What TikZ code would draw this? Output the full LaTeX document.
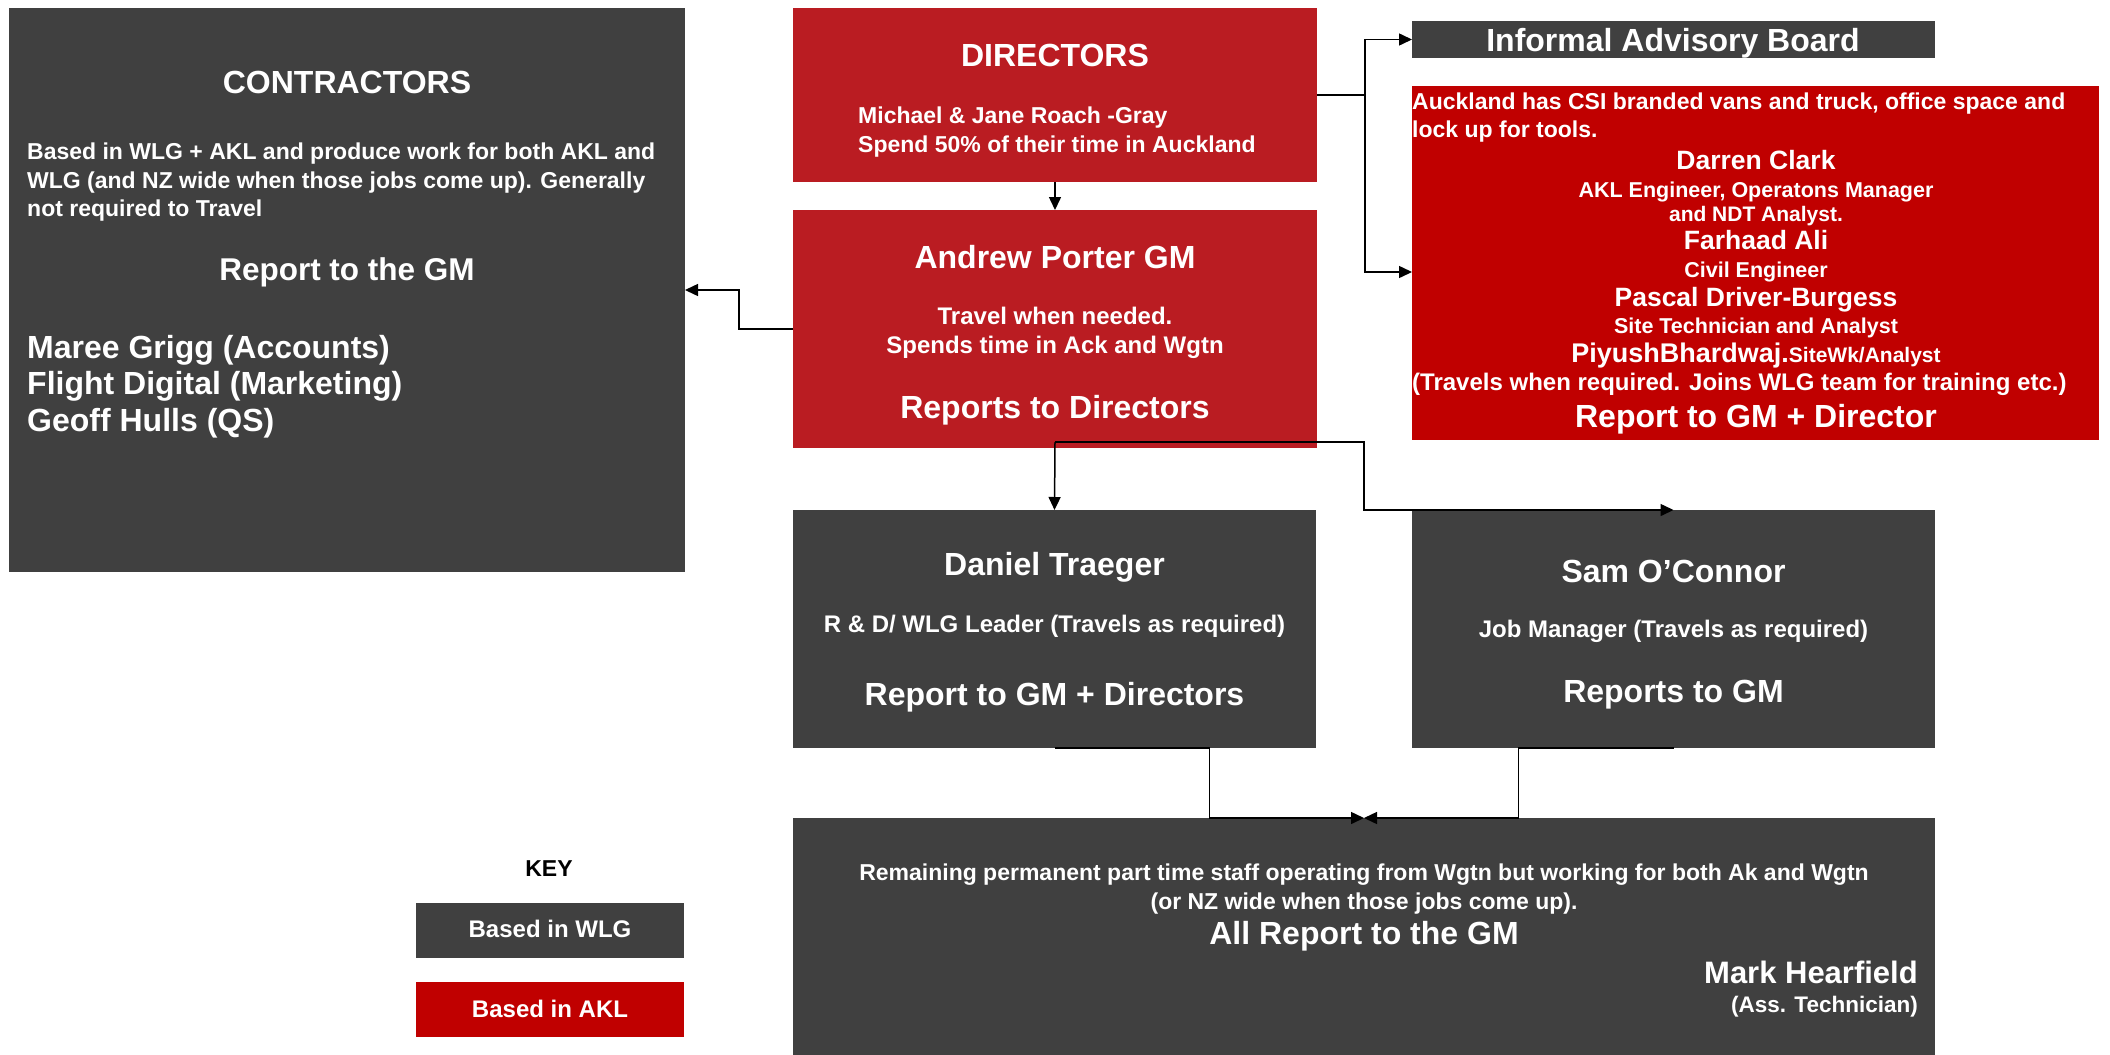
\documentclass[tikz,border=0pt]{standalone}
\usepackage{fontspec}
\setmainfont{Liberation Sans}
\usetikzlibrary{arrows.meta}
\definecolor{wlggray}{HTML}{404040}
\definecolor{dirred}{HTML}{BA1C22}
\definecolor{aklred}{HTML}{C00000}
\tikzset{
  box/.style={draw=none, inner sep=0pt, outer sep=0pt},
  wlgbox/.style={box, fill=wlggray},
  dirbox/.style={box, fill=dirred},
  aklbox/.style={box, fill=aklred},
  lbl/.style={text=white, inner sep=0pt, font=\bfseries\fontsize{#1}{#1}\selectfont},
  conn/.style={line width=1.5pt, -{Triangle[length=13pt,width=12pt]}}
}
\begin{document}
\begin{tikzpicture}[x=1pt, y=-1pt]
\useasboundingbox (0,0) rectangle (2110,1055);

% boxes
\node[wlgbox, minimum width=676pt, minimum height=564pt] (contractors) at (347,290) {};
\node[dirbox, minimum width=524pt, minimum height=174pt] (directors) at (1055,95) {};
\node[dirbox, minimum width=524pt, minimum height=238pt] (gm) at (1055,329) {};
\node[wlgbox, minimum width=523pt, minimum height=37pt] (board) at (1673.5,39.5) {};
\node[aklbox, minimum width=687pt, minimum height=354pt] (akl) at (1755.5,263) {};
\node[wlgbox, minimum width=523pt, minimum height=238pt] (daniel) at (1054.5,629) {};
\node[wlgbox, minimum width=523pt, minimum height=238pt] (sam) at (1673.5,629) {};
\node[wlgbox, minimum width=1142pt, minimum height=237pt] (staff) at (1364,936.5) {};
\node[wlgbox, minimum width=268pt, minimum height=55pt] (keywlg) at (550,930.5) {};
\node[aklbox, minimum width=268pt, minimum height=55pt] (keyakl) at (550,1009.5) {};

% contractors
\node[lbl=32, anchor=base] (contrT) at (347,93) {CONTRACTORS};
\foreach \y/\t [count=\i] in {159/{Based in WLG + AKL and produce work for both AKL and},
    188/{WLG (and NZ wide when those jobs come up). Generally},
    216/{not required to Travel}}
  \node[lbl=23, anchor=base west] (contrP\i) at (27,\y) {\t};
\node[lbl=31.5, anchor=base] (contrR) at (347,280) {Report to the GM};
\foreach \y/\t [count=\i] in {358/{Maree Grigg (Accounts)}, 394/{Flight Digital (Marketing)}, 431/{Geoff Hulls (QS)}}
  \node[lbl=32, anchor=base west] (contrN\i) at (27,\y) {\t};

% directors and GM
\node[lbl=32, anchor=base] (dirT) at (1055,66) {DIRECTORS};
\node[lbl=23, anchor=base west] (dirA) at (858,123) {Michael \& Jane Roach -Gray};
\node[lbl=23, anchor=base west] (dirB) at (858,152) {Spend 50\% of their time in Auckland};
\node[lbl=32, anchor=base] (gmT) at (1055,268) {Andrew Porter GM};
\node[lbl=24, anchor=base] (gmA) at (1055,324) {Travel when needed.};
\node[lbl=24, anchor=base] (gmB) at (1055,353) {Spends time in Ack and Wgtn};
\node[lbl=32, anchor=base] (gmR) at (1055,418) {Reports to Directors};

% advisory board and Auckland
\node[lbl=32, anchor=base] (boardT) at (1673,51) {Informal Advisory Board};
\node[lbl=23, anchor=base west] (aklA) at (1412,109) {Auckland has CSI branded vans and truck, office space and};
\node[lbl=23, anchor=base west] (aklB) at (1412,137) {lock up for tools.};
\foreach \y/\s/\t [count=\i] in {169/26.5/{Darren Clark}, 197/21.5/{AKL Engineer, Operatons Manager},
    221/21/{and NDT Analyst.}, 249/26.5/{Farhaad Ali}, 277/21.5/{Civil Engineer},
    306/26.5/{Pascal Driver-Burgess}, 333/21.5/{Site Technician and Analyst}}
  \node[lbl=\s, anchor=base] (aklN\i) at (1756,\y) {\t};
\node[lbl=27, anchor=base] (aklP) at (1756,362) {PiyushBhardwaj.{\fontsize{21}{21}\selectfont SiteWk/Analyst}};
\node[lbl=24, anchor=base west] (aklC) at (1412,390) {(Travels when required. Joins WLG team for training etc.)};
\node[lbl=32, anchor=base] (aklR) at (1756,427) {Report to GM + Director};

% Daniel and Sam
\node[lbl=32, anchor=base] (danT) at (1054.5,575) {Daniel Traeger};
\node[lbl=24, anchor=base] (danA) at (1054.5,632) {R \& D/ WLG Leader (Travels as required)};
\node[lbl=32, anchor=base] (danR) at (1054.5,705) {Report to GM + Directors};
\node[lbl=32, anchor=base] (samT) at (1673.5,582) {Sam O’Connor};
\node[lbl=24, anchor=base] (samA) at (1673.5,637) {Job Manager (Travels as required)};
\node[lbl=32, anchor=base] (samR) at (1673.5,702) {Reports to GM};

% remaining staff
\node[lbl=23, anchor=base] (staffA) at (1364,880) {Remaining permanent part time staff operating from Wgtn but working for both Ak and Wgtn};
\node[lbl=23, anchor=base] (staffB) at (1364,909) {(or NZ wide when those jobs come up).};
\node[lbl=32, anchor=base] (staffR) at (1364,944) {All Report to the GM};
\node[lbl=31, anchor=base east] (staffN) at (1918,983) {Mark Hearfield};
\node[lbl=22.5, anchor=base east] (staffJ) at (1918,1012) {(Ass. Technician)};

% key
\node[inner sep=0pt, anchor=base, font=\bfseries\fontsize{23}{23}\selectfont] (keyT) at (549,876) {KEY};
\node[lbl=24, anchor=base] (keyA) at (550,937) {Based in WLG};
\node[lbl=24, anchor=base] (keyB) at (550,1017) {Based in AKL};

% connectors
\coordinate (gmout) at ([yshift=6pt]gm.south);
\draw[conn] (directors.south) -- (gm.north);
\draw[conn] (gm.west) -- ++(-54,0) |- (contractors.east);
\draw[conn] (directors.east) -- ++(48,0) |- (board.west);
\draw[conn] (directors.east) -- ++(48,0) |- ([yshift=-9pt]akl.west);
\draw[conn] (gmout) -- (daniel.north);
\draw[conn] (gmout) -| (staff.north |- sam.north) -- (sam.north);
\draw[conn] (daniel.south) -- ++(155,0) |- (staff.north);
\draw[conn] (sam.south) -- ++(-155,0) |- (staff.north);

\end{tikzpicture}
\end{document}
